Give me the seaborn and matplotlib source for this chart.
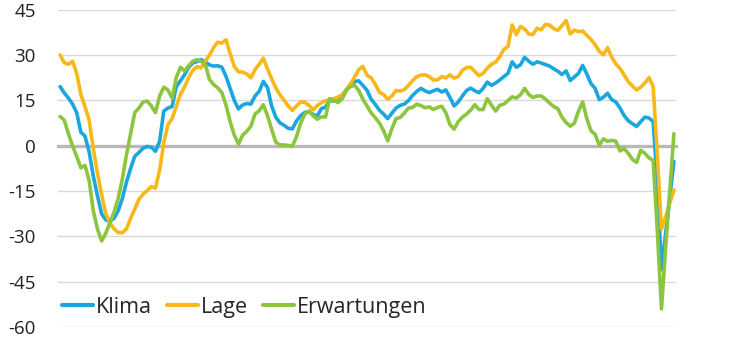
import numpy as np
import pandas as pd
import matplotlib
matplotlib.use("Agg")
import matplotlib.pyplot as plt
import seaborn as sns

# Monthly balances (Saldo), March 2008 to July 2020
klima = [
    19.6, 17.5, 15.8, 13.8, 11.0, 4.5, 3.2, -2.0, -10.0, -16.5,
    -22.5, -24.5, -25.0, -24.0, -21.5, -17.5, -12.0, -7.5, -3.5, -2.2,
    -0.8, -0.2, -0.5, -1.8, 1.5, 11.5, 12.5, 13.0, 19.5, 21.5,
    23.5, 26.0, 27.4, 27.9, 28.5, 27.8, 26.8, 26.4, 26.5, 26.0,
    23.0, 19.0, 15.0, 12.2, 13.5, 14.0, 13.8, 16.5, 18.0, 21.3,
    19.3, 13.2, 9.5, 7.6, 6.8, 5.8, 5.6, 8.2, 10.0, 11.0,
    11.3, 10.4, 9.8, 12.3, 12.8, 15.0, 14.8, 14.8, 15.8, 18.4,
    20.0, 21.3, 21.5, 20.0, 18.4, 15.4, 13.7, 11.8, 10.5, 9.0,
    10.8, 12.5, 13.4, 13.8, 15.0, 16.7, 18.0, 19.0, 18.2, 17.6,
    18.2, 18.7, 17.8, 18.5, 16.0, 13.2, 14.5, 16.5, 18.3, 19.1,
    18.2, 17.6, 19.0, 21.1, 20.0, 20.8, 21.8, 22.9, 24.0, 27.8,
    26.0, 26.8, 29.3, 28.0, 27.0, 27.8, 27.4, 26.9, 26.4, 25.5,
    24.7, 23.6, 24.8, 21.6, 22.8, 24.0, 26.6, 23.8, 20.6, 19.0,
    15.3, 16.1, 17.4, 15.3, 14.5, 12.5, 10.0, 8.3, 7.3, 6.4,
    8.0, 9.5, 9.2, 8.0, -12.0, -41.0, -29.0, -17.0, -5.2,
]
lage = [
    30.1, 27.5, 27.0, 28.0, 24.0, 17.0, 13.0, 8.5, -1.0, -9.0,
    -16.0, -22.5, -25.5, -27.5, -28.7, -28.8, -27.5, -24.0, -21.0, -17.7,
    -16.0, -14.8, -13.5, -14.0, -8.0, 1.0, 7.0, 9.0, 13.0, 17.0,
    19.5, 22.6, 25.0, 26.2, 25.8, 28.0, 30.0, 32.5, 34.3, 34.0,
    35.1, 30.5, 26.3, 24.5, 24.4, 23.8, 22.5, 25.2, 27.0, 29.0,
    25.5, 22.2, 19.2, 16.9, 15.1, 13.2, 11.7, 13.2, 14.5, 14.4,
    13.4, 11.9, 13.3, 14.3, 14.9, 15.2, 15.6, 16.1, 16.9, 18.6,
    20.5, 22.7, 25.2, 26.3, 23.4, 22.5, 20.3, 17.7, 17.0, 15.4,
    16.5, 18.3, 18.1, 18.6, 20.0, 21.6, 22.9, 23.4, 23.5, 22.9,
    21.8, 21.8, 22.9, 22.5, 23.5, 22.4, 22.9, 25.0, 25.9, 26.0,
    24.6, 23.2, 24.0, 25.7, 27.0, 27.7, 29.5, 31.9, 32.9, 40.0,
    36.8, 39.5, 38.7, 37.0, 36.8, 38.9, 38.4, 40.2, 40.0, 38.8,
    38.2, 39.8, 41.5, 37.0, 38.3, 37.8, 38.0, 36.6, 35.2, 33.5,
    31.3, 30.1, 32.5, 29.4, 27.1, 25.6, 23.4, 21.2, 19.8, 18.5,
    19.4, 20.8, 22.6, 19.6, -3.0, -27.5, -23.5, -19.0, -14.6,
]
erwartungen = [
    9.7, 8.5, 4.0, 0.0, -3.5, -7.3, -6.5, -11.5, -21.5, -27.5,
    -31.5, -29.0, -25.5, -22.0, -17.5, -11.0, -3.0, 4.0, 11.0, 12.5,
    14.5, 14.8, 13.2, 11.0, 16.5, 19.4, 18.5, 15.8, 22.5, 26.0,
    24.8, 26.5, 28.0, 28.5, 28.0, 27.0, 22.0, 20.3, 19.2, 17.6,
    13.5, 8.0, 3.5, 0.6, 3.5, 4.8, 6.5, 10.5, 11.6, 13.6,
    10.0, 5.5, 1.2, 0.3, 0.3, 0.1, -0.1, 3.0, 7.5, 10.5,
    11.5, 9.9, 8.8, 9.6, 9.5, 15.6, 15.0, 14.3, 15.5, 18.4,
    19.6, 20.1, 18.3, 15.5, 13.2, 10.9, 9.3, 7.5, 5.0, 1.6,
    5.7, 9.0, 9.4, 10.8, 12.5, 12.7, 13.8, 13.3, 12.6, 12.9,
    12.0, 12.7, 13.1, 11.0, 7.0, 5.5, 8.0, 9.5, 10.5, 11.8,
    13.6, 12.0, 12.0, 15.6, 13.5, 11.5, 13.4, 13.8, 15.0, 16.2,
    15.8, 16.9, 19.0, 17.0, 16.0, 16.5, 16.5, 15.5, 14.2, 13.0,
    12.3, 9.5, 7.7, 6.5, 7.5, 11.5, 14.5, 9.0, 5.0, 3.8,
    0.2, 2.3, 1.5, 1.8, 1.5, -1.7, -0.9, -2.5, -4.5, -5.5,
    -1.5, -2.5, -4.0, -4.8, -28.0, -54.0, -34.0, -15.0, 4.0,
]

series_names = ["Klima", "Lage", "Erwartungen"]
colors = {"Klima": "#1ba6e0", "Lage": "#f7b81a", "Erwartungen": "#8cc540"}
y_ticks = [-60, -45, -30, -15, 0, 15, 30, 45]

n = len(klima)
months = np.arange(n)
df = pd.DataFrame({
    "monat": np.tile(months, 3),
    "saldo": np.concatenate([klima, lage, erwartungen]),
    "reihe": np.repeat(series_names, n),
})

sns.set_theme(style="white")
plt.rcParams["font.family"] = ["Open Sans", "DejaVu Sans"]

fig = plt.figure(figsize=(7.3, 3.4), dpi=100)
ax = fig.add_axes([0.0795, 0.038, 0.8465, 0.933])

for y in y_ticks:
    if y != 0:
        ax.axhline(y, color="#d9d9d9", linewidth=1.0, zorder=0)

sns.lineplot(data=df, x="monat", y="saldo", hue="reihe", hue_order=series_names,
             palette=colors, linewidth=2.6, ax=ax, zorder=3)

ax.set_xlim(-0.5, n - 0.5)
ax.set_ylim(-60, 45)
ax.set_yticks(y_ticks)
ax.set_yticklabels([str(v) for v in y_ticks], fontsize=13.5, color="#222222")
ax.set_xticks(np.arange(-0.5, n, 24))
ax.set_xlabel("")
ax.set_ylabel("")

for side in ["top", "right", "left"]:
    ax.spines[side].set_visible(False)
ax.spines["bottom"].set_position(("data", 0))
ax.spines["bottom"].set_color("#b8b8b8")
ax.spines["bottom"].set_linewidth(2.4)
ax.spines["bottom"].set_zorder(1)
ax.tick_params(axis="x", direction="out", length=5, width=1.3, color="#b8b8b8",
               labelbottom=False)
ax.tick_params(axis="y", length=0, pad=16)

handles, labels = ax.get_legend_handles_labels()
leg = ax.legend(handles, labels, loc="center left", bbox_to_anchor=(0.006, 0.063),
                ncol=3, frameon=False, fontsize=15.5, handlelength=1.45,
                handletextpad=0.12, columnspacing=0.7, borderpad=0,
                borderaxespad=0)
for line in leg.get_lines():
    line.set_linewidth(3.0)

fig.savefig("out.png", dpi=100, facecolor="white")
